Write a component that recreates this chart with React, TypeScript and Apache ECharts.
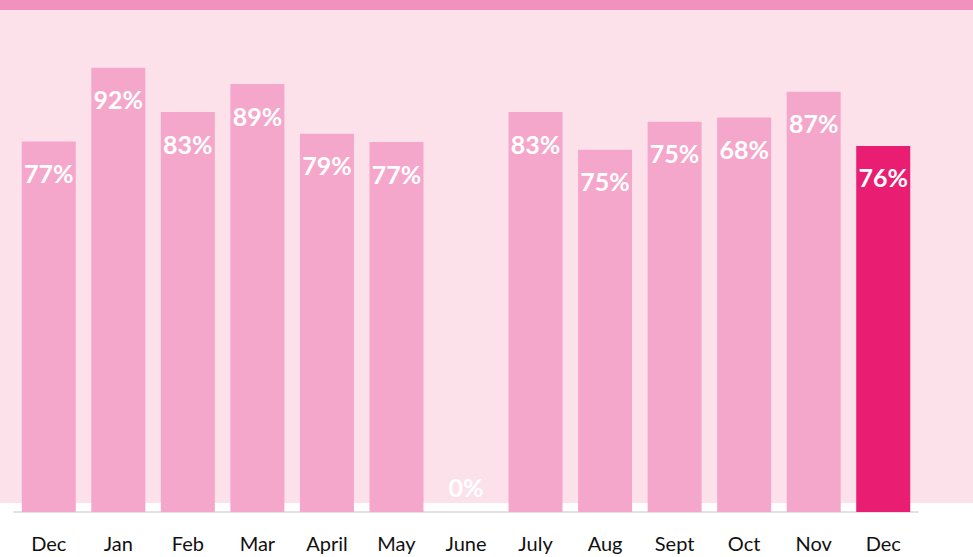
import React, { useEffect, useRef } from "react";
import * as echarts from "echarts";

const categories = ["Dec", "Jan", "Feb", "Mar", "April", "May", "June", "July", "Aug", "Sept", "Oct", "Nov", "Dec"];
const values = [76.7, 92, 82.8, 88.6, 78.3, 76.6, 0, 82.8, 75, 80.8, 81.7, 87, 75.8];
const valueLabels = ["77%", "92%", "83%", "89%", "79%", "77%", "0%", "83%", "75%", "75%", "68%", "87%", "76%"];

const BAR = "#f5a7cb";
const HIGHLIGHT = "#e91e72";

export default function App() {
  const ref = useRef<HTMLDivElement>(null);
  useEffect(() => {
    if (!ref.current) return;
    const chart = echarts.init(ref.current, null, { renderer: "svg" });
    const data = values.map((v, i) => {
      const item: any = {
        value: v,
        itemStyle: { color: i === values.length - 1 ? HIGHLIGHT : BAR },
        label: { formatter: valueLabels[i] },
      };
      if (v === 0) {
        item.label = { formatter: valueLabels[i], position: "top", distance: 13 };
      }
      return item;
    });
    chart.setOption({
      animation: false,
      backgroundColor: "#ffffff",
      graphic: [
        { type: "rect", z: -10, silent: true, shape: { x: 0, y: 0, width: 973, height: 503 }, style: { fill: "#fce1eb" } },
        { type: "rect", z: -9, silent: true, shape: { x: 0, y: 0, width: 973, height: 10 }, style: { fill: "#f391be" } },
      ],
      grid: { left: 14, right: 55, top: 29, bottom: 557 - 512 },
      xAxis: {
        type: "category",
        data: categories,
        axisLine: { show: true, lineStyle: { color: "#d9d9d9", width: 1.5 } },
        axisTick: { show: false },
        axisLabel: { color: "#111111", fontFamily: "Lato", fontSize: 20, margin: 21, interval: 0 },
      },
      yAxis: { type: "value", min: 0, max: 100, show: false, splitLine: { show: false } },
      series: [
        {
          type: "bar",
          data,
          barWidth: 54,
          label: {
            show: true,
            position: "insideTop",
            distance: 19,
            color: "#ffffff",
            fontFamily: "Lato",
            fontWeight: "bold",
            fontSize: 25,
          },
        },
      ],
    });
    return () => chart.dispose();
  }, []);
  return <div ref={ref} style={{ position: "fixed", left: 0, top: 0, width: 973, height: 557 }} />;
}
